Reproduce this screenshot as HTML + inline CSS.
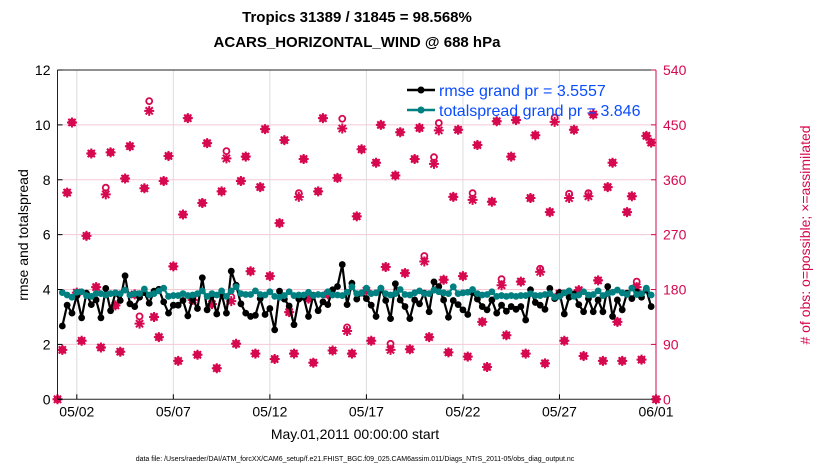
<!DOCTYPE html>
<html><head><meta charset="utf-8"><style>
body{margin:0;background:#fff;}
svg text{font-family:"Liberation Sans",Arial,sans-serif;}
</style></head><body>
<svg id="chart" width="830" height="470" viewBox="0 0 830 470" xmlns="http://www.w3.org/2000/svg">
<text x="357" y="22" text-anchor="middle" font-size="15" font-weight="bold">Tropics 31389 / 31845 = 98.568%</text>
<text x="357" y="47" text-anchor="middle" font-size="15" font-weight="bold">ACARS_HORIZONTAL_WIND @ 688 hPa</text>
<g id="grid"></g>
<g id="obs"></g>
<g id="lines"></g>
<g id="axes"></g>
<text transform="translate(28,235) rotate(-90)" text-anchor="middle" font-size="14">rmse and totalspread</text>
<text transform="translate(810,235) rotate(-90)" text-anchor="middle" font-size="14" fill="#d6084f"># of obs: o=possible; ×=assimilated</text>
<text x="355" y="439" text-anchor="middle" font-size="14">May.01,2011 00:00:00 start</text>
<text x="355" y="461" text-anchor="middle" font-size="7">data file: /Users/raeder/DAI/ATM_forcXX/CAM6_setup/f.e21.FHIST_BGC.f09_025.CAM6assim.011/Diags_NTrS_2011-05/obs_diag_output.nc</text>
<g>
<line x1="407" y1="90" x2="435" y2="90" stroke="#000" stroke-width="2.5"/>
<circle cx="421" cy="90" r="3.5" fill="#000"/>
<text x="439" y="96" font-size="16" fill="#0a4dff">rmse grand pr = 3.5557</text>
<line x1="407" y1="110" x2="435" y2="110" stroke="#008080" stroke-width="2.5"/>
<circle cx="421" cy="110" r="3.5" fill="#008080"/>
<text x="439" y="116" font-size="16" fill="#0a4dff">totalspread grand pr = 3.846</text>
</g>
</svg>
<script>
const possible=[0,81,339,454,175,96,268,403,184,85,347,405,154,78,362,415,172,136,346,489,135,102,358,399,218,63,303,461,163,73,322,420,156,51,341,407,168,91,358,398,210,75,348,443,202,66,289,425,143,75,338,394,165,60,341,461,172,80,363,460,118,75,300,410,178,96,388,450,217,91,367,438,207,82,394,445,235,102,397,453,196,77,332,442,202,70,338,417,127,53,324,456,197,105,398,458,193,75,330,433,214,59,307,462,173,96,337,442,179,71,338,467,195,63,348,388,127,63,307,333,193,65,432,421,0];
const assimilated=[0,81,339,454,175,96,268,403,184,85,336,405,154,78,362,415,172,124,346,473,135,102,358,399,218,63,303,461,163,73,322,420,156,51,341,395,161,91,358,398,210,75,348,443,202,66,289,425,143,75,332,394,165,60,341,461,172,80,363,444,112,75,300,410,178,96,388,450,217,81,367,438,207,82,394,445,226,102,386,441,196,77,332,442,202,70,327,417,127,53,324,456,187,105,398,458,193,75,330,433,209,59,307,455,173,96,330,442,179,71,333,467,195,63,348,388,127,63,307,333,184,65,432,421,0];
const rmse=[null,2.67,3.43,3.14,3.77,2.97,3.87,3.45,3.62,2.97,4.04,3.23,3.87,3.6,4.5,3.48,3.38,3.72,3.89,3.5,3.94,4.01,3.55,3.14,3.43,3.43,3.6,3.04,3.65,3.31,4.43,3.26,3.79,3.11,3.84,3.14,4.67,4.16,3.48,3.14,3.02,3.06,3.67,3.09,3.31,2.53,3.94,3.65,3.4,2.72,3.65,3.72,3.02,3.79,3.23,3.55,3.45,3.99,4.11,4.91,3.45,4.23,3.65,3.87,3.67,3.43,3.02,4.04,3.6,2.94,4.21,3.62,3.38,2.94,3.62,3.48,3.87,3.19,4.28,4.11,3.62,2.99,3.6,3.45,3.26,3.09,3.89,3.65,3.38,3.26,3.62,3.14,3.43,3.21,3.38,3.28,3.38,2.89,3.99,3.53,3.43,3.28,4.04,3.67,3.89,3.11,3.72,3.84,3.45,3.19,3.67,3.19,3.62,3.19,4.11,3.02,3.62,3.26,3.87,3.67,3.91,3.72,3.99,3.38,null];
const spread=[null,3.89,3.8,3.72,3.9,3.92,3.78,3.75,3.85,3.85,3.8,3.85,3.88,3.85,3.98,3.8,3.85,3.85,4.02,3.8,3.85,3.95,4.05,3.75,3.78,3.78,3.85,3.78,3.8,3.85,3.95,3.75,3.85,3.8,3.95,3.75,3.95,4.1,3.85,3.82,3.82,3.95,3.82,3.8,3.92,3.75,3.72,3.78,3.92,3.78,3.8,3.8,3.9,3.78,3.82,3.8,3.92,3.8,3.8,3.78,3.9,4.1,3.85,3.88,4.05,3.85,3.88,4.05,3.85,3.8,3.85,4.0,3.82,3.8,3.88,3.95,3.85,3.85,3.98,3.92,3.88,3.85,4.1,3.85,3.88,3.9,4.0,3.85,3.8,3.82,3.92,3.75,3.78,3.75,3.78,3.75,3.78,3.78,3.85,3.78,3.78,3.82,3.85,3.72,3.75,3.88,3.95,3.75,3.8,3.92,3.8,3.82,3.95,3.78,3.85,3.9,3.98,3.88,3.82,4.05,3.82,3.85,4.05,3.8,null];
const leftTicks=[0,2,4,6,8,10,12];
const rightTicks=[0,90,180,270,360,450,540];
const dateTicks=[1,6,11,16,21,26,31];
const dateLabels=["05/02","05/07","05/12","05/17","05/22","05/27","06/01"];

const NS="http://www.w3.org/2000/svg";
const L=57.5,R=656,T=70,B=399.3;
const X=d=>L+d*(R-L)/31;
const Y=v=>B-v*(B-T)/12;
const YR=c=>B-c*(B-T)/540;
const PINK="#d6084f";
function mk(tag,attrs,parent){const e=document.createElementNS(NS,tag);for(const k in attrs)e.setAttribute(k,attrs[k]);parent.appendChild(e);return e;}
const grid=document.getElementById('grid'),axes=document.getElementById('axes'),obs=document.getElementById('obs'),lines=document.getElementById('lines');
mk('rect',{x:L,y:T,width:R-L,height:B-T,fill:'#fff'},grid);
leftTicks.forEach(v=>{if(v>0&&v<12){const g=mk('line',{x1:L,x2:R,y1:Y(v),y2:Y(v),stroke:'#f5c8d6','stroke-width':1},grid);

}});
dateTicks.forEach((d,i)=>{const g=mk('line',{x1:X(d),x2:X(d),y1:T,y2:B,stroke:'#dcdcdc','stroke-width':1},grid);


const t=mk('text',{x:X(d),y:B+17,'text-anchor':'middle','font-size':14},axes);t.textContent=dateLabels[i];


mk('line',{x1:X(d),x2:X(d),y1:B,y2:B-5,stroke:'#000'},axes);});
mk('line',{x1:L,x2:L,y1:T,y2:B,stroke:'#222','stroke-width':1},axes);
mk('line',{x1:L,x2:R,y1:B,y2:B,stroke:'#222','stroke-width':1},axes);
mk('line',{x1:L,x2:R,y1:T,y2:T,stroke:'#222','stroke-width':1},axes);
mk('line',{x1:R,x2:R,y1:T,y2:B,stroke:PINK,'stroke-width':1},axes);
leftTicks.forEach(v=>{mk('line',{x1:L,x2:L+5,y1:Y(v),y2:Y(v),stroke:'#000'},axes);
const t=mk('text',{x:L-7,y:Y(v)+5,'text-anchor':'end','font-size':14},axes);t.textContent=v;

});
rightTicks.forEach(v=>{mk('line',{x1:R,x2:R-5,y1:YR(v),y2:YR(v),stroke:PINK},axes);
const t=mk('text',{x:R+7,y:YR(v)+5,'font-size':14,fill:PINK},axes);t.textContent=v;

});
possible.forEach((c,i)=>{const x=X(i*0.25);
const o=mk('circle',{cx:x,cy:YR(c),r:3,fill:'none',stroke:PINK,'stroke-width':1.8},obs);


const a=assimilated[i],y=YR(a);
const g=mk('path',{d:`M${x-5},${y}H${x+5}M${x},${y-5}V${y+5}M${x-3.6},${y-3.6}L${x+3.6},${y+3.6}M${x-3.6},${y+3.6}L${x+3.6},${y-3.6}`,stroke:PINK,'stroke-width':2},obs);

});
function series(vals,color,name,r){let d='';vals.forEach((v,i)=>{if(v==null)return;d+=(d?'L':'M')+X(i*0.25)+','+Y(v);});
const p=mk('path',{d:d,fill:'none',stroke:color,'stroke-width':2.2},lines);


vals.forEach((v,i)=>{if(v==null)return;const c=mk('circle',{cx:X(i*0.25),cy:Y(v),r:r,fill:color},lines);

});}
series(rmse,'#000','rmse',3.4);
series(spread,'#008080','totalspread',3.4);
</script>
</body></html>
